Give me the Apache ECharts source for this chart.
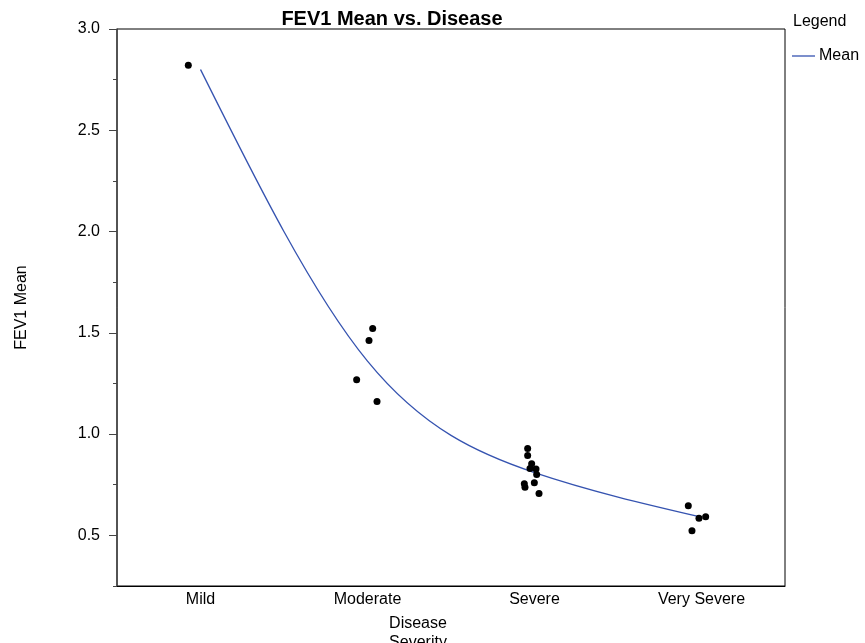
<!DOCTYPE html>
<html>
<head>
<meta charset="utf-8">
<script src="https://cdn.jsdelivr.net/npm/echarts@6/dist/echarts.min.js"></script>
<style>
html,body{margin:0;padding:0;background:#fff;}
#chart{width:865px;height:643px;}
</style>
</head>
<body>
<div id="chart"></div>
<script>
// Category labels (x axis positions 1..4)
const categories = ['Mild', 'Moderate', 'Severe', 'Very Severe'];
// Mean curve
const meanX = [1, 2, 3, 4];
const meanY = [2.80, 1.36, 0.81, 0.59];
// Individual (jittered) observations
const pointX = [0.927,
  2.031, 2.009, 1.935, 2.057,
  2.959, 2.959, 2.983, 2.973, 3.009, 3.013, 2.939, 2.943, 2.999, 3.027,
  3.921, 3.985, 4.025, 3.943];
const pointY = [2.821,
  1.521, 1.462, 1.268, 1.161,
  0.929, 0.894, 0.853, 0.830, 0.828, 0.801, 0.755, 0.738, 0.760, 0.707,
  0.646, 0.584, 0.592, 0.523];
const yMajorTicks = [0.5, 1.0, 1.5, 2.0, 2.5, 3.0];

const FONT = 'Liberation Sans, Arial, Helvetica, sans-serif';
const LINE_COLOR = '#3553b0';
const chart = echarts.init(document.getElementById('chart'), null, {renderer: 'canvas'});

// Natural cubic spline through pixel points, returned as bezier path commands
function splinePath(pts) {
  const n = pts.length - 1;
  const h = [], M = new Array(n + 1).fill(0);
  for (let i = 0; i < n; i++) h.push(pts[i + 1][0] - pts[i][0]);
  if (n >= 2) {
    const a = [], b = [], c = [], d = [];
    for (let i = 1; i < n; i++) {
      a.push(h[i - 1]); b.push(2 * (h[i - 1] + h[i])); c.push(h[i]);
      d.push(6 * ((pts[i + 1][1] - pts[i][1]) / h[i] - (pts[i][1] - pts[i - 1][1]) / h[i - 1]));
    }
    const m = b.length;
    for (let i = 1; i < m; i++) {
      const w = a[i] / b[i - 1];
      b[i] -= w * c[i - 1]; d[i] -= w * d[i - 1];
    }
    const sol = new Array(m);
    sol[m - 1] = d[m - 1] / b[m - 1];
    for (let i = m - 2; i >= 0; i--) sol[i] = (d[i] - c[i] * sol[i + 1]) / b[i];
    for (let i = 0; i < m; i++) M[i + 1] = sol[i];
  }
  const cmds = [['M', pts[0][0], pts[0][1]]];
  for (let i = 0; i < n; i++) {
    const hi = h[i];
    const s = (pts[i + 1][1] - pts[i][1]) / hi;
    const d0 = s - hi * (2 * M[i] + M[i + 1]) / 6;
    const d1 = s + hi * (M[i] + 2 * M[i + 1]) / 6;
    cmds.push(['C', pts[i][0] + hi / 3, pts[i][1] + d0 * hi / 3,
      pts[i + 1][0] - hi / 3, pts[i + 1][1] - d1 * hi / 3, pts[i + 1][0], pts[i + 1][1]]);
  }
  return cmds.map(c => c[0] + c.slice(1).map(v => v.toFixed(2)).join(' ')).join(' ');
}

const option = {
  backgroundColor: '#fff',
  animation: false,
  textStyle: {fontFamily: FONT, color: '#000'},
  title: [
    {text: 'FEV1 Mean vs. Disease', left: 392, top: 9, padding: 0, textAlign: 'center',
     textStyle: {fontFamily: FONT, fontSize: 20, fontWeight: 'bold', color: '#000'}},
    {text: 'Legend', left: 793, top: 14, padding: 0,
     textStyle: {fontFamily: FONT, fontSize: 16, fontWeight: 'normal', color: '#000'}}
  ],
  legend: {
    data: [{name: 'Mean', icon: 'rect', itemStyle: {color: LINE_COLOR}}], left: 792, top: 48, padding: 0,
    itemWidth: 23, itemHeight: 1.3, itemGap: 4,
    textStyle: {fontFamily: FONT, fontSize: 16, color: '#000', padding: [0, 0, 0, -1]}
  },
  grid: {left: 117, top: 29, right: 80, bottom: 57, show: true, borderColor: '#000', borderWidth: 1,
         outerBoundsMode: 'none', containLabel: false},
  xAxis: {
    type: 'value', min: 0.5, max: 4.5,
    name: 'Disease\nSeverity', nameLocation: 'middle', nameGap: 28,
    nameTextStyle: {fontFamily: FONT, fontSize: 16, color: '#000', lineHeight: 19, padding: [0, 66, 0, 0], verticalAlign: 'top'},
    axisLine: {show: true, lineStyle: {color: '#000', width: 1}},
    axisTick: {show: false},
    splitLine: {show: false},
    axisLabel: {customValues: meanX, margin: 6, fontSize: 16, color: '#000', fontFamily: FONT,
      formatter: v => categories[Math.round(v) - 1]}
  },
  yAxis: [
    {
      type: 'value', min: 0.25, max: 3.0, interval: 0.25, position: 'left',
      axisLine: {show: true, lineStyle: {color: '#444', width: 1.5}},
      axisTick: {show: true, length: 4, lineStyle: {color: '#444'}},
      axisLabel: {show: false},
      splitLine: {show: false}
    },
    {
      type: 'value', min: 0.25, max: 3.0, interval: 0.25, position: 'left', offset: 0,
      name: 'FEV1 Mean', nameLocation: 'middle', nameGap: 87, nameRotate: 90,
      nameTextStyle: {fontFamily: FONT, fontSize: 16, color: '#000'},
      axisLine: {show: false},
      axisTick: {show: true, length: 8, customValues: yMajorTicks, lineStyle: {color: '#444'}},
      axisLabel: {customValues: yMajorTicks, margin: 17, fontSize: 16, color: '#000', fontFamily: FONT,
        padding: [5, 0, 0, 0], formatter: v => v.toFixed(1)},
      splitLine: {show: false}
    }
  ],
  series: [
    {
      name: 'Mean', type: 'custom', coordinateSystem: 'cartesian2d',
      itemStyle: {color: LINE_COLOR},
      data: meanX.map((x, i) => [x, meanY[i]]), z: 2,
      renderItem: function (params, api) {
        if (params.dataIndex !== 0) return null;
        const pts = meanX.map((x, i) => api.coord([x, meanY[i]]));
        return {
          type: 'path',
          shape: {pathData: splinePath(pts)},
          style: {fill: null, stroke: LINE_COLOR, lineWidth: 1.3}
        };
      }
    },
    {
      name: 'Observations', type: 'scatter', symbol: 'circle', symbolSize: 7,
      itemStyle: {color: '#000', opacity: 1},
      data: pointX.map((x, i) => [x, pointY[i]]), z: 3
    }
  ]
};
chart.setOption(option);
</script>
</body>
</html>
